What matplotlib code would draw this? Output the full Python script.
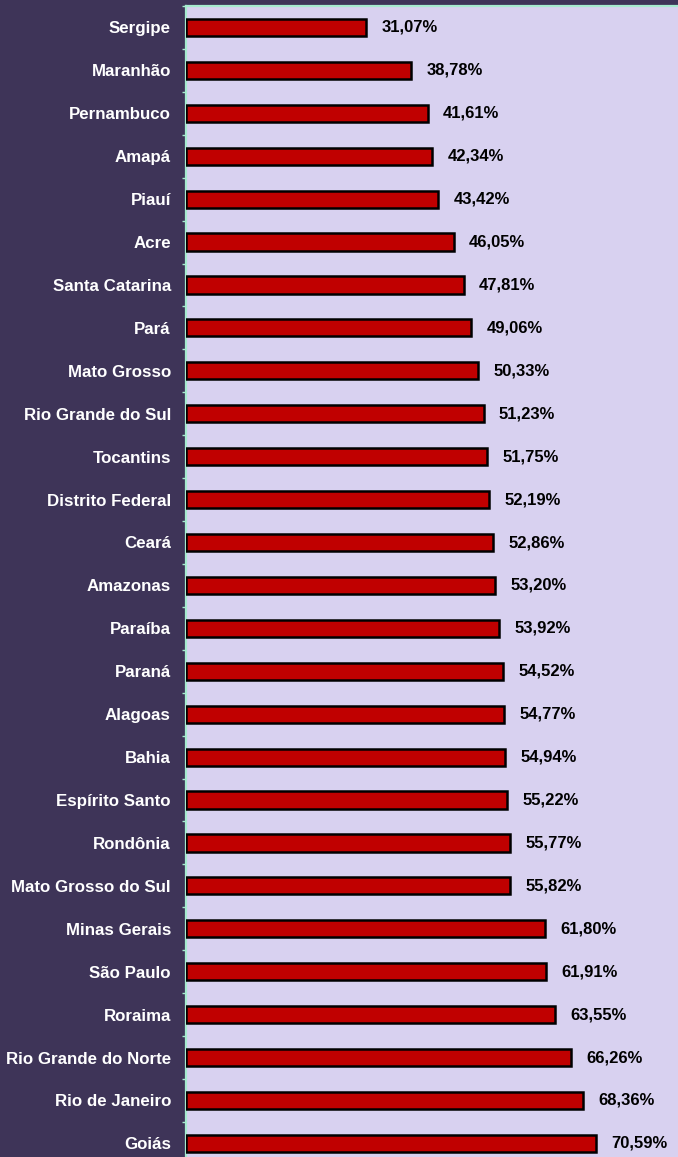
import matplotlib.pyplot as plt
import numpy as np

# states and their percentages, top to bottom
estados = ["Sergipe", "Maranhão", "Pernambuco", "Amapá", "Piauí", "Acre",
           "Santa Catarina", "Pará", "Mato Grosso", "Rio Grande do Sul",
           "Tocantins", "Distrito Federal", "Ceará", "Amazonas", "Paraíba",
           "Paraná", "Alagoas", "Bahia", "Espírito Santo", "Rondônia",
           "Mato Grosso do Sul", "Minas Gerais", "São Paulo", "Roraima",
           "Rio Grande do Norte", "Rio de Janeiro", "Goiás"]
valores = [31.07, 38.78, 41.61, 42.34, 43.42, 46.05, 47.81, 49.06, 50.33,
           51.23, 51.75, 52.19, 52.86, 53.20, 53.92, 54.52, 54.77, 54.94,
           55.22, 55.77, 55.82, 61.80, 61.91, 63.55, 66.26, 68.36, 70.59]

fundo = "#3E3458"
area = "#D8D1F0"
verde = "#A6EBCF"

W, H = 678, 1157
fig = plt.figure(figsize=(W / 100, H / 100), dpi=100, facecolor=fundo)
plt.rcParams['font.family'] = ['Liberation Sans', 'DejaVu Sans']

n = len(estados)
esp = 42.92  # px per category
top_px = 6
ax_h = n * esp
ax = fig.add_axes([185.5 / W, 1 - (top_px + ax_h) / H, 1 - 185.5 / W, ax_h / H])
ax.set_facecolor(area)

y = np.arange(n)
ax.barh(y, valores, height=0.4, color="#C00000", edgecolor="black", linewidth=1.8, zorder=3)
ax.set_ylim(n - 0.5, -0.5)
ax.set_xlim(0, 84.6)

for yi, v in zip(y, valores):
    ax.annotate(f"{v:.2f}%".replace(".", ","), (v, yi), xytext=(11, 0),
                textcoords="offset points", va="center", ha="left",
                fontsize=12, fontweight="bold", color="black")

ax.set_yticks(y)
ax.set_yticklabels(estados, fontsize=12.2, fontweight="bold", color="white")
ax.tick_params(axis="y", which="major", length=0, pad=10.5)
ax.set_yticks(np.arange(n + 1) - 0.5, minor=True)
ax.tick_params(axis="y", which="minor", length=3.2, width=1, color=verde, direction="out")
ax.set_xticks([])

for s in ["right", "bottom"]:
    ax.spines[s].set_visible(False)
for s in ["left", "top"]:
    ax.spines[s].set_color(verde)
    ax.spines[s].set_linewidth(1.6)

fig.savefig("out.png", dpi=100, facecolor=fundo)
